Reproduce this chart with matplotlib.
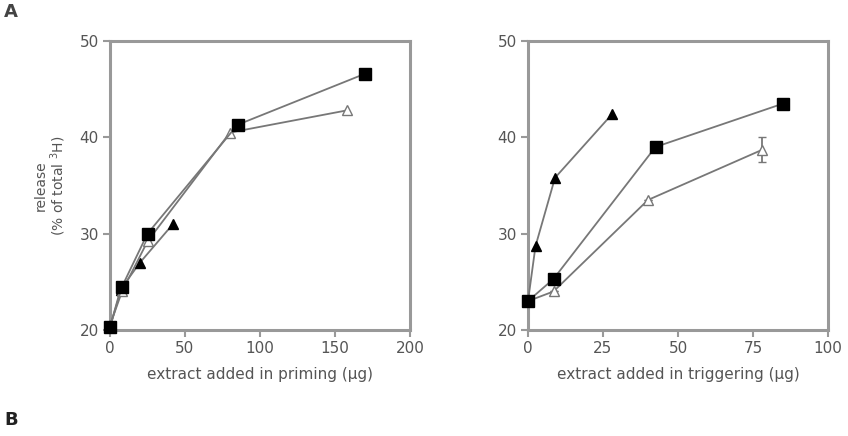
import matplotlib.pyplot as plt

# left panel: priming
prime_sq_x = [0, 8, 25, 85, 170]
prime_sq_y = [20.3, 24.5, 30.0, 41.3, 46.6]
prime_open_x = [0, 8, 25, 80, 158]
prime_open_y = [20.5, 24.0, 29.2, 40.5, 42.8]
prime_fill_x = [0, 7, 20, 42]
prime_fill_y = [20.3, 24.2, 27.0, 31.0]

# right panel: triggering
trig_fill_x = [0, 2.5, 9, 28]
trig_fill_y = [23.0, 28.7, 35.8, 42.4]
trig_sq_x = [0, 8.5, 42.5, 85]
trig_sq_y = [23.0, 25.3, 39.0, 43.5]
trig_open_x = [0, 8.5, 40, 78]
trig_open_y = [23.0, 24.0, 33.5, 38.7]
trig_open_err = [0, 0, 0, 1.3]

line_col = '#777777'
text_col = '#555555'
spine_col = '#999999'

fig = plt.figure(figsize=(8.48, 4.36), dpi=100)
ax1 = fig.add_axes([110/848, 106/436, 300/848, 289/436])
ax2 = fig.add_axes([528/848, 106/436, 300/848, 289/436])


def style(ax, xmax, xticks, xlabel):
    ax.set_xlim(0, xmax)
    ax.set_ylim(20, 50)
    ax.set_xticks(xticks)
    ax.set_yticks([20, 30, 40, 50])
    for s in ax.spines.values():
        s.set_color(spine_col)
        s.set_linewidth(2.2)
    ax.tick_params(direction='out', length=5, width=1.5, color=spine_col,
                   labelcolor=text_col, labelsize=11, pad=3)
    ax.set_xlabel(xlabel, fontsize=11, color=text_col, labelpad=8)


# priming
ax1.plot(prime_fill_x, prime_fill_y, '-', color=line_col, lw=1.3,
         marker='^', ms=7, mfc='black', mec='black', clip_on=False, zorder=3)
ax1.plot(prime_open_x, prime_open_y, '-', color=line_col, lw=1.3,
         marker='^', ms=7, mfc='white', mec=line_col, clip_on=False, zorder=3)
ax1.plot(prime_sq_x, prime_sq_y, '-', color=line_col, lw=1.3,
         marker='s', ms=8, mfc='black', mec='black', clip_on=False, zorder=4)
style(ax1, 200, [0, 50, 100, 150, 200], 'extract added in priming (\u03bcg)')
ax1.set_ylabel('release\n(% of total $^3$H)', fontsize=10, color=text_col,
               labelpad=8, linespacing=1.1)

# triggering
ax2.plot(trig_fill_x, trig_fill_y, '-', color=line_col, lw=1.3,
         marker='^', ms=7, mfc='black', mec='black', clip_on=False, zorder=3)
ax2.errorbar(trig_open_x, trig_open_y, yerr=trig_open_err, fmt='-',
             color=line_col, lw=1.3, marker='^', ms=7, mfc='white',
             mec=line_col, capsize=3, clip_on=False, zorder=3)
ax2.plot(trig_sq_x, trig_sq_y, '-', color=line_col, lw=1.3,
         marker='s', ms=8, mfc='black', mec='black', clip_on=False, zorder=4)
style(ax2, 100, [0, 25, 50, 75, 100], 'extract added in triggering (\u03bcg)')

fig.text(4/848, 1 - 12/436, 'A', fontsize=13, fontweight='bold', color='#444444', va='center')
fig.text(4/848, 16/436, 'B', fontsize=13, fontweight='bold', color='#222222', va='center')

fig.savefig('out.png', dpi=100)
